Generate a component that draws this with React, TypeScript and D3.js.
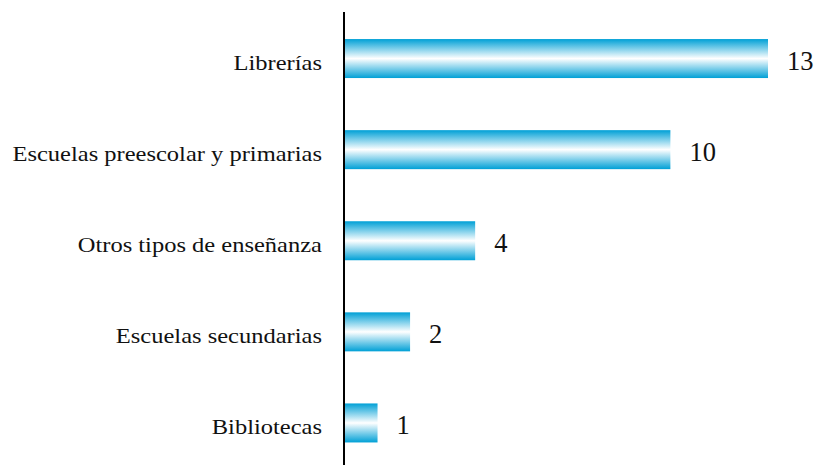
import React from "react";
import * as d3 from "d3";

const categories = ["Librerías", "Escuelas preescolar y primarias", "Otros tipos de enseñanza", "Escuelas secundarias", "Bibliotecas"];
const values = [13, 10, 4, 2, 1];

const W = 816;
const H = 465;

export default function App() {
  const x = d3.scaleLinear().domain([0, 13]).range([345, 768]);
  const y = d3.scaleBand<string>().domain(categories).range([13, 468.5]).paddingInner(0.572).paddingOuter(0.286);
  const font = "Liberation Serif";
  return (
    <svg width={W} height={H} style={{ position: "absolute", left: 0, top: 0 }}>
      <defs>
        <linearGradient id="barGrad" x1="0" y1="0" x2="0" y2="1">
          <stop offset="0%" stopColor="#00a0d6" />
          <stop offset="50%" stopColor="#ffffff" />
          <stop offset="100%" stopColor="#00a0d6" />
        </linearGradient>
      </defs>
      <rect x={0} y={0} width={W} height={H} fill="#ffffff" />
      {categories.map((c, i) => {
        const yy = y(c)!;
        const bw = y.bandwidth();
        const cy = yy + bw / 2;
        return (
          <g key={c}>
            <rect x={x(0)} y={yy} width={x(values[i]) - x(0)} height={bw} fill="url(#barGrad)" />
            <text transform={`translate(322,${cy + 11}) scale(1.14,1)`} textAnchor="end" style={{ fontFamily: font }} fontSize={21.5} fill="#111">{c}</text>
            <text x={x(values[i]) + 19} y={cy + 11} textAnchor="start" style={{ fontFamily: font }} fontSize={26.5} fill="#111">{values[i]}</text>
          </g>
        );
      })}
      <line x1={344} x2={344} y1={12} y2={H} stroke="#000" strokeWidth={2} />
    </svg>
  );
}
